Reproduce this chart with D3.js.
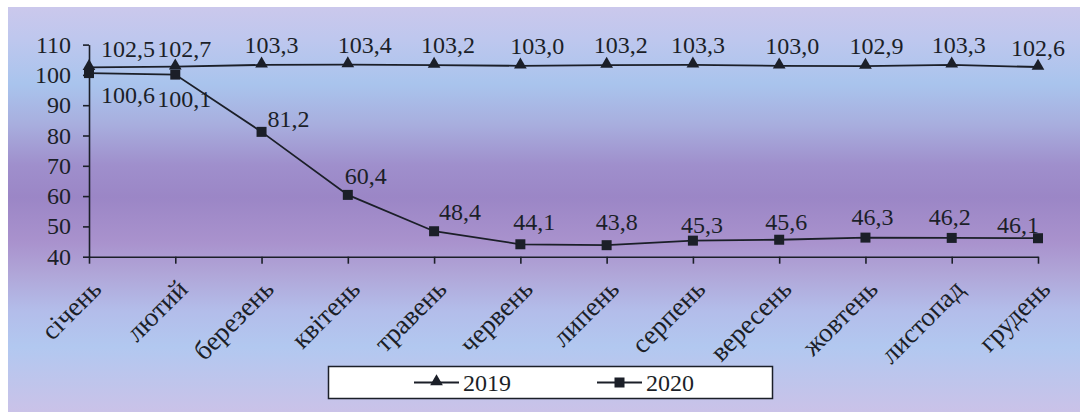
<!DOCTYPE html>
<html>
<head>
<meta charset="utf-8">
<script src="https://cdn.jsdelivr.net/npm/d3@7"></script>
<style>
  html, body { margin: 0; padding: 0; background: #ffffff; }
  svg { display: block; }
</style>
</head>
<body>
<svg id="chart" width="1080" height="412"></svg>
<script>
// Monthly index values, per cent of the same month of the previous year
const months = ["січень", "лютий", "березень", "квітень", "травень", "червень",
                "липень", "серпень", "вересень", "жовтень", "листопад", "грудень"];
const values2019 = [102.5, 102.7, 103.3, 103.4, 103.2, 103.0, 103.2, 103.3, 103.0, 102.9, 103.3, 102.6];
const values2020 = [100.6, 100.1, 81.2, 60.4, 48.4, 44.1, 43.8, 45.3, 45.6, 46.3, 46.2, 46.1];
const yTicks = [40, 50, 60, 70, 80, 90, 100, 110];
const seriesNames = ["2019", "2020"];

// Hand-placed offsets of the value labels relative to their points [dx, dy to baseline]
const labelNudge2019 = [[39, -10], [9, -10], [10, -12], [17, -12], [14, -12], [17, -12],
                        [14, -12], [5, -12], [13, -12], [11, -12], [7, -12], [0, -11]];
const labelNudge2020 = [[39, 30], [9, 32], [27, -5], [18, -11], [26, -11], [14, -14],
                        [10, -15], [9, -8], [7, -10], [7, -13], [-2, -13], [-20, -5]];

const fmt = v => d3.format(".1f")(v).replace(".", ",");
const FONT = '"Liberation Serif", "Times New Roman", Times, serif';
const ink = "#1b1f28";

const svg = d3.select("#chart")
  .style("font-family", FONT);
const W = 1080, H = 412;

// Soft vertical background gradient
const defs = svg.append("defs");
const grad = defs.append("linearGradient")
  .attr("id", "bg").attr("x1", 0).attr("y1", 0).attr("x2", 0).attr("y2", 1);
[
  [0.00, "#cbc8ec"], [0.08, "#bec7ee"], [0.19, "#a9c4ed"], [0.29, "#a8aede"],
  [0.39, "#9f8fcc"], [0.47, "#9b86c6"], [0.58, "#a992cd"], [0.66, "#b0a6d8"],
  [0.75, "#b3bdea"], [0.84, "#b2c8f0"], [1.00, "#cac2e8"]
].forEach(([o, c]) => grad.append("stop").attr("offset", o).attr("stop-color", c));

svg.append("rect").attr("x", 8).attr("y", 7).attr("width", W - 8).attr("height", H - 7)
  .attr("fill", "url(#bg)");

const x = d3.scalePoint().domain(months).range([89, 1038]);
const y = d3.scaleLinear().domain([40, 110]).range([256.7, 44.6]);

const styleText = sel => sel.style("font-family", FONT).attr("fill", ink);

// Axes
const xAxis = svg.append("g").attr("transform", `translate(0,${y(40)})`)
  .call(d3.axisBottom(x).tickSize(7).tickSizeOuter(0).tickFormat(""));
xAxis.select(".domain").attr("stroke", ink).attr("stroke-width", 1.6);
xAxis.selectAll(".tick line").attr("stroke", ink).attr("stroke-width", 1.6);

const yAxis = svg.append("g").attr("transform", `translate(${x(months[0])},0)`)
  .call(d3.axisLeft(y).tickValues(yTicks).tickSize(6).tickSizeOuter(0).tickFormat(""));
yAxis.select(".domain").attr("stroke", ink).attr("stroke-width", 1.6);
yAxis.selectAll(".tick line").attr("stroke", ink).attr("stroke-width", 1.6);

// Y tick labels
svg.append("g").selectAll("text").data(yTicks).join("text")
  .attr("x", 71).attr("y", d => y(d) + 8)
  .attr("text-anchor", "end").attr("font-size", 24)
  .call(styleText)
  .text(d => d);

// Rotated month labels
svg.append("g").selectAll("text").data(months).join("text")
  .attr("text-anchor", "end").attr("font-size", 27)
  .attr("transform", d => `translate(${x(d) + 14},${y(40) + 34}) rotate(-45)`)
  .call(styleText)
  .text(d => d);

// Lines
const line = vals => d3.line().x((d, i) => x(months[i])).y(d => y(d))(vals);
svg.append("path").attr("d", line(values2020)).attr("fill", "none")
  .attr("stroke", ink).attr("stroke-width", 1.8);
svg.append("path").attr("d", line(values2019)).attr("fill", "none")
  .attr("stroke", ink).attr("stroke-width", 1.8);

// Markers
const tri = d3.symbol().type(d3.symbolTriangle).size(70);
svg.append("g").selectAll("path").data(values2019).join("path")
  .attr("d", tri).attr("fill", ink)
  .attr("transform", (d, i) => `translate(${x(months[i])},${y(d) - 1})`);
svg.append("g").selectAll("rect").data(values2020).join("rect")
  .attr("x", (d, i) => x(months[i]) - 5).attr("y", d => y(d) - 5)
  .attr("width", 10).attr("height", 10).attr("fill", ink);

// Value labels
svg.append("g").selectAll("text").data(values2019).join("text")
  .attr("text-anchor", "middle").attr("font-size", 24)
  .attr("x", (d, i) => x(months[i]) + labelNudge2019[i][0])
  .attr("y", (d, i) => y(d) + labelNudge2019[i][1])
  .call(styleText)
  .text(fmt);
svg.append("g").selectAll("text").data(values2020).join("text")
  .attr("text-anchor", "middle").attr("font-size", 24)
  .attr("x", (d, i) => x(months[i]) + labelNudge2020[i][0])
  .attr("y", (d, i) => y(d) + labelNudge2020[i][1])
  .call(styleText)
  .text(fmt);

// Legend
const lg = svg.append("g");
lg.append("rect").attr("x", 328.5).attr("y", 366.5).attr("width", 444).attr("height", 32)
  .attr("fill", "#ffffff").attr("stroke", ink).attr("stroke-width", 1.5);
const items = [
  { name: seriesNames[0], x0: 414, marker: "tri" },
  { name: seriesNames[1], x0: 597, marker: "sq" }
];
items.forEach(it => {
  const cy = 382.5;
  lg.append("line").attr("x1", it.x0).attr("x2", it.x0 + 45).attr("y1", cy).attr("y2", cy)
    .attr("stroke", ink).attr("stroke-width", 1.8);
  if (it.marker === "tri") {
    lg.append("path").attr("d", tri).attr("fill", ink)
      .attr("transform", `translate(${it.x0 + 22.5},${cy - 1})`);
  } else {
    lg.append("rect").attr("x", it.x0 + 17.5).attr("y", cy - 5).attr("width", 10).attr("height", 10)
      .attr("fill", ink);
  }
  lg.append("text").attr("x", it.x0 + 49).attr("y", cy + 8.5).attr("font-size", 24)
    .call(styleText).text(it.name);
});
</script>
</body>
</html>
